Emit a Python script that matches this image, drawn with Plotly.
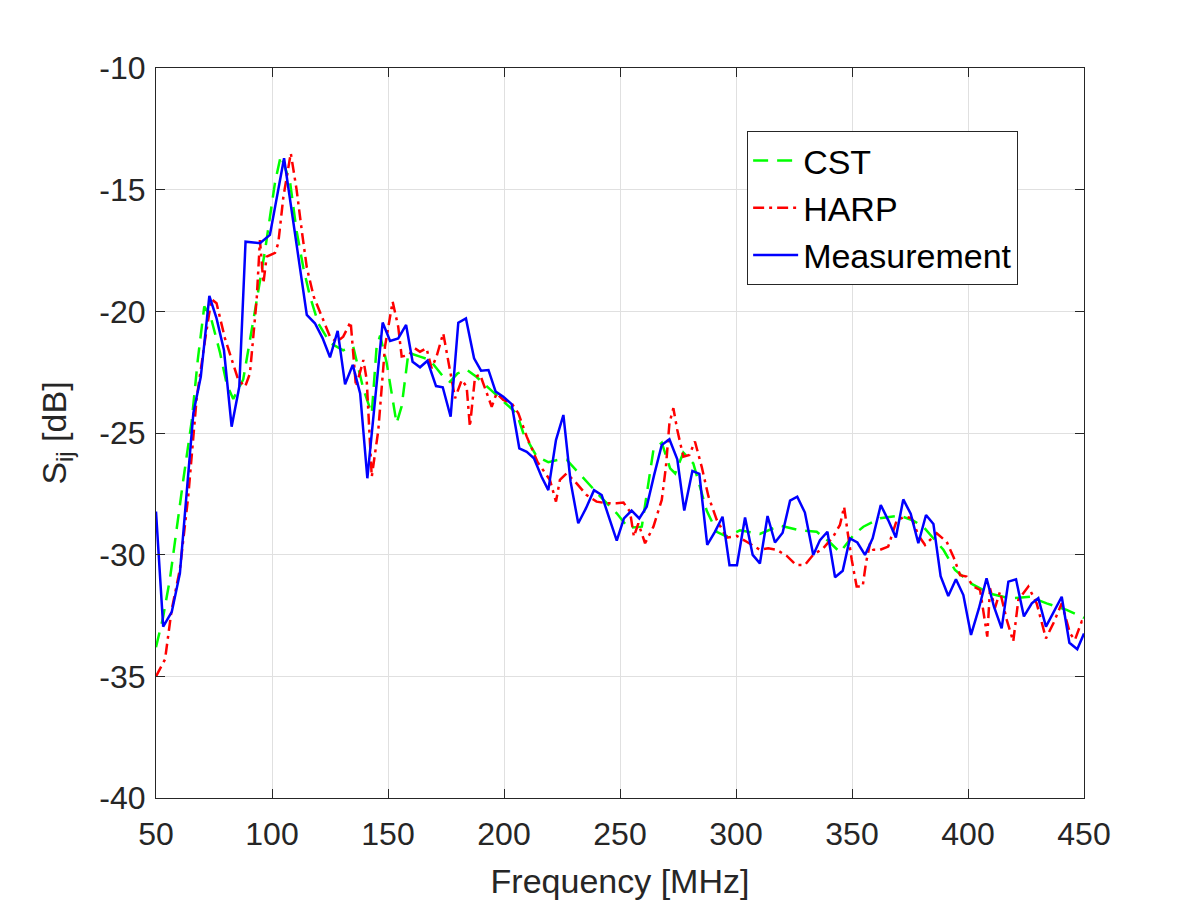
import plotly.graph_objects as go

# ---- data ----
freq_cst = [50, 53, 56, 58.5, 61.8, 65.4, 68, 70.8, 73.5, 77.6, 80.5, 83.3, 87.6, 91.9, 94.8, 97, 101.3, 103.8,
            107.8, 110.6, 113.5, 116.4, 120, 125, 130.7, 135, 139.4, 143, 145.1, 146.6, 149.4, 153.7, 155.9,
            158.8, 163.8, 168.1, 173.9, 176.7, 180, 183.9, 188.2, 194, 199.7, 205.5, 208.3, 214.1, 219.1, 223.5,
            227, 234.2, 241.4, 248.6, 253.6, 259.4, 261.5, 264.4, 268, 271.6, 273.8, 277.3, 281.6, 284.5, 287.4,
            291.7, 296, 301.7, 310.3, 318.9, 327.6, 334.8, 340.5, 344.8, 350.6, 354.9, 362.1, 370.7, 376.4,
            380.7, 385, 389.4, 394.4, 401.6, 409.5, 418.1, 426.7, 433.9, 442.5, 448.3, 450]
s_cst = [-33.8, -32.6, -31.0, -29.2, -26.9, -24.5, -22.0, -19.8, -20.2, -21.7, -23.0, -23.6, -22.8, -20.4, -18.7,
         -17.5, -14.7, -13.6, -14.7, -16.7, -18.2, -19.4, -20.5, -21.3, -21.6, -21.45, -23.2, -24.2, -21.45,
         -21.0, -22.1, -24.6, -23.9, -21.7, -21.86, -22.0, -22.7, -22.9, -22.55, -22.4, -22.7, -23.2, -23.7,
         -24.2, -25.0, -25.97, -26.2, -26.1, -26.1, -26.86, -27.6, -28.3, -28.9, -28.85, -27.5, -25.7, -25.4,
         -26.45, -26.66, -25.8, -26.25, -27.2, -28.2, -29.06, -29.26, -29.0, -29.15, -28.8, -29.0, -29.06,
         -29.5, -29.9, -29.2, -28.85, -28.5, -28.4, -28.6, -28.85, -29.3, -29.8, -30.63, -31.2, -31.6, -31.8,
         -31.73, -32.0, -32.27, -32.55, -32.6]

freq_harp = [50, 53.9, 56.7, 60.3, 63.9, 67.5, 71.1, 73.9, 76.1, 79.7, 85.4, 88.4, 90.5, 93.4, 94.8, 96.3, 97.7,
             101.3, 102.7, 104.9, 108.1, 110.6, 113, 115, 118, 122.1, 125, 127.9, 130.7, 133.9, 136.2, 139.4,
             140.8, 143, 145.8, 148.7, 152, 154.4, 155.9, 158.8, 161.6, 163.8, 166.6, 168.8, 170.9, 173.8,
             176.7, 178.9, 181.8, 183.9, 185.3, 187.5, 189.7, 192.5, 194.7, 196.8, 199.7, 203.3, 206.2, 209.8,
             214.5, 219.8, 222.4, 224.1, 227, 231.3, 235.6, 239.9, 244.3, 248.6, 251.5, 254.3, 256, 257.9,
             260.8, 264.4, 268, 269.8, 271.3, 273, 274.7, 277.3, 279.9, 282.3, 285.2, 288.1, 291.7, 296, 300.3,
             304.6, 310.3, 313.9, 317.5, 321.9, 325.9, 329.7, 333.3, 337.6, 341.9, 344.8, 346.6, 348, 349.9,
             352, 354.6, 356, 357.8, 359.2, 362.1, 365.6, 369.3, 372.8, 375.7, 378.6, 381.5, 386.5, 390.8,
             393.7, 396.6, 399.4, 402.3, 405.2, 408.3, 409.5, 411.6, 413.8, 416.7, 419.5, 421.7, 426, 429.6,
             433.6, 436.8, 440.4, 444, 446.1, 449, 450]
s_harp = [-35.0, -34.3, -32.3, -30.6, -27.6, -23.6, -21.2, -19.5, -19.67, -21.1, -22.8, -23.1, -22.55, -19.5,
          -17.07, -18.85, -17.75, -17.6, -17.2, -15.3, -13.5, -15.0, -16.8, -18.2, -19.4, -20.4, -21.04, -21.25,
          -21.04, -20.43, -23.1, -22.0, -22.8, -26.8, -24.9, -21.45, -19.6, -20.63, -21.86, -21.8, -21.52,
          -21.66, -21.52, -22.34, -21.86, -20.9, -22.4, -23.57, -22.82, -23.1, -24.74, -22.7, -22.6, -23.37,
          -23.92, -23.37, -23.64, -23.78, -24.19, -25.15, -26.2, -26.93, -27.82, -26.93, -26.66, -27.07,
          -27.55, -27.82, -27.89, -27.89, -27.86, -28.23, -29.26, -28.71, -29.53, -28.85, -27.75, -26.38,
          -24.6, -23.98, -24.88, -25.97, -25.9, -25.35, -26.38, -27.6, -28.57, -29.3, -29.23, -29.47, -29.8,
          -29.74, -29.8, -30.05, -30.42, -30.42, -30.0, -29.74, -29.26, -28.78, -28.03, -29.0, -30.22, -31.31,
          -31.31, -30.35, -29.53, -29.8, -29.8, -29.67, -28.58, -28.44, -28.5, -29.2, -29.6, -29.12, -29.47,
          -30.08, -30.84, -30.9, -31.31, -31.45, -33.37, -31.38, -32.2, -31.52, -32.68, -33.57, -31.86,
          -31.31, -32.0, -33.44, -32.82, -32.0, -33.24, -33.5, -32.75, -32.8]

freq_meas = [50, 53.1, 56.8, 60.3, 66.1, 69.3, 73.0, 76.1, 79.3, 82.6, 85.9, 88.6, 94.8, 99.1, 105.2, 115,
             118.5, 121.8, 125, 128.3, 131.5, 134.8, 138, 141.1, 147.7, 150.9, 154.4, 157.8, 160.6, 163.8,
             167, 170.7, 173.6, 177, 180.3, 183.6, 187.1, 190.1, 193.3, 196.4, 199.7, 203.3, 206.6, 209.8,
             212.9, 216.2, 219.1, 222.4, 225.6, 228.7, 232, 235.3, 238.8, 242.1, 245.4, 248.6, 251.7, 255,
             258.3, 261.5, 264.7, 268, 271.3, 274.7, 277.7, 281.2, 284.2, 287.6, 290.9, 294.2, 297.2, 300.4,
             303.9, 307.2, 310.3, 313.6, 316.8, 320.1, 323.3, 326.4, 329.7, 333.3, 336.2, 339.4, 342.7, 346,
             349.1, 352.3, 355.6, 358.9, 362.4, 365.6, 368.9, 372.1, 375.3, 378.6, 381.9, 385.1, 388.2, 391.5,
             394.8, 398, 401.3, 404.7, 408, 411.2, 414.5, 417.4, 420.7, 424.1, 427.5, 430.3, 433.6, 437.1,
             440.4, 443.7, 447.1, 450]
s_meas = [-28.23, -32.96, -32.35, -30.77, -24.19, -22.69, -19.37, -20.29, -21.6, -24.74, -23.1, -17.14, -17.2,
          -16.86, -13.71, -20.15, -20.49, -21.1, -21.89, -20.8, -23.0, -22.2, -23.37, -26.86, -20.46, -21.22,
          -21.11, -20.56, -22.07, -22.3, -22.03, -23.07, -23.12, -24.33, -20.47, -20.29, -21.93, -22.44,
          -22.41, -23.3, -23.51, -23.81, -25.63, -25.77, -26.04, -26.8, -27.35, -25.29, -24.26, -27.0, -28.71,
          -28.1, -27.35, -27.55, -28.51, -29.42, -28.51, -28.19, -28.51, -28.03, -26.73, -25.49, -25.26,
          -26.08, -28.19, -26.56, -26.68, -29.6, -29.06, -28.44, -30.43, -30.43, -28.47, -30.01, -30.36,
          -28.41, -29.5, -29.1, -27.78, -27.62, -28.27, -30.01, -29.4, -29.06, -30.93, -30.66, -29.33, -29.5,
          -30.01, -29.33, -27.96, -28.58, -29.29, -27.73, -28.32, -29.53, -28.37, -28.74, -30.88, -31.7,
          -31.01, -31.66, -33.3, -32.21, -30.97, -32.14, -33.03, -31.11, -31.01, -32.54, -32.0, -31.79,
          -32.96, -32.34, -31.73, -33.62, -33.89, -33.24]

x_ticks = [50, 100, 150, 200, 250, 300, 350, 400, 450]
y_ticks = [-10, -15, -20, -25, -30, -35, -40]

FONT = "Liberation Sans, Arial, Helvetica, sans-serif"
AX = "#262626"

fig = go.Figure()
fig.add_trace(go.Scatter(x=freq_cst, y=s_cst, mode="lines", name="CST",
                         line=dict(color="#00ff00", width=2.5, dash="15px,9px"),
                         legendgroup="a"))
fig.add_trace(go.Scatter(x=freq_harp, y=s_harp, mode="lines", name="HARP",
                         line=dict(color="#ff0000", width=2.5, dash="11px,5px,3px,5px"),
                         legendgroup="b"))
fig.add_trace(go.Scatter(x=freq_meas, y=s_meas, mode="lines", name="Measurement",
                         line=dict(color="#0000ff", width=2.5),
                         legendgroup="c"))

axis_common = dict(
    showline=True, linecolor=AX, linewidth=1, mirror="ticks",
    ticks="inside", ticklen=9, tickwidth=1, tickcolor=AX,
    showgrid=True, gridcolor="#e0e0e0", gridwidth=1, zeroline=False,
    automargin=False,
    tickfont=dict(family=FONT, size=32, color=AX),
)

fig.update_layout(
    width=1200, height=900,
    paper_bgcolor="white", plot_bgcolor="white",
    margin=dict(l=156, r=116, t=68, b=102),
    font=dict(family=FONT, color=AX),
    showlegend=True,
    legend=dict(x=0.637, y=0.9137, xanchor="left", yanchor="top",
                bordercolor="#262626", borderwidth=1, bgcolor="white",
                font=dict(family=FONT, size=34, color="black"),
                itemwidth=45,
                tracegroupgap=0, traceorder="grouped"),
    xaxis=dict(range=[50, 450], tickvals=x_ticks, ticktext=[str(v) for v in x_ticks],
               ticklabelstandoff=8,
               title=dict(text="Frequency [MHz]", font=dict(family=FONT, size=34, color=AX), standoff=19),
               **axis_common),
    yaxis=dict(range=[-40, -10], tickvals=y_ticks, ticktext=[str(v) for v in y_ticks],
               ticklabelstandoff=3,
               title=dict(text="S<sub>ij</sub> [dB]", font=dict(family=FONT, size=34, color=AX), standoff=22),
               **axis_common),
)

fig.write_html("out.html")
